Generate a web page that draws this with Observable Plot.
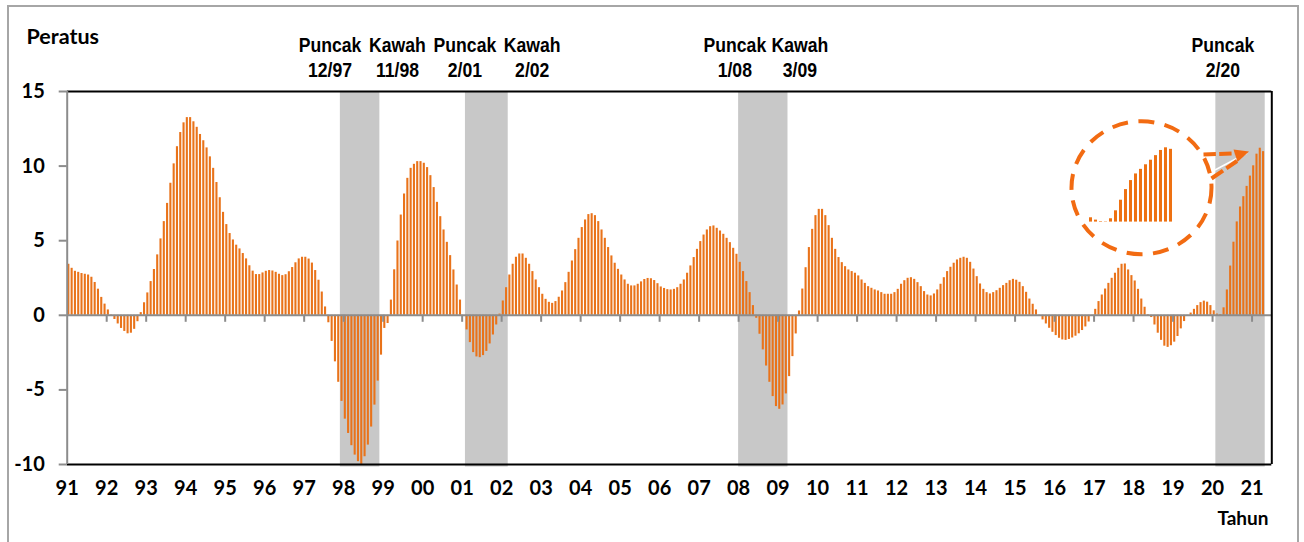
<!DOCTYPE html>
<html>
<head>
<meta charset="utf-8">
<script src="https://cdn.jsdelivr.net/npm/d3@7"></script>
<script src="https://cdn.jsdelivr.net/npm/@observablehq/plot@0.6"></script>
<style>
  html, body { margin: 0; padding: 0; background: #fff; width: 1304px; height: 542px; overflow: hidden; }
  #wrap { position: relative; width: 1304px; height: 542px; }
  #border { position: absolute; left: 7px; top: 5px; width: 1288px; height: 600px; border: 2px solid #a6a6a6; border-bottom: none; }
  #main, #inset { position: absolute; left: 0; top: 0; }
  #inset { left: 1083.6px; top: 142.4px; }
</style>
</head>
<body>
<div id="wrap">
  <div id="border"></div>
  <div id="main"></div>
  <div id="inset"></div>
</div>
<script>
// ---------------- DATA ----------------
const startYear = 1991;               // first bar = January 1991, monthly
const endYear = 2021;                 // axis runs to mid-2021
const values = [
  // 1991
  3.42, 3.15, 2.95, 2.88, 2.80, 2.75, 2.70, 2.55, 2.20, 1.75, 1.20, 0.75,
  // 1992
  0.36, 0.03, -0.28, -0.58, -0.88, -1.08, -1.24, -1.20, -0.94, -0.43, 0.18, 0.84,
  // 1993
  1.50, 2.26, 3.07, 4.05, 5.12, 6.28, 7.50, 8.85, 10.15, 11.30, 12.25, 12.90,
  // 1994
  13.25, 13.25, 12.97, 12.60, 12.12, 11.70, 11.22, 10.62, 9.85, 8.90, 7.88, 6.90,
  // 1995
  6.08, 5.48, 5.05, 4.70, 4.45, 4.14, 3.78, 3.32, 2.96, 2.73, 2.73, 2.84,
  // 1996
  2.95, 3.00, 2.97, 2.88, 2.75, 2.66, 2.72, 2.92, 3.20, 3.52, 3.78, 3.89,
  // 1997
  3.89, 3.77, 3.50, 3.00, 2.35, 1.56, 0.56, -0.50, -1.75, -3.12, -4.49, -5.77,
  // 1998
  -6.96, -7.92, -8.74, -9.37, -9.81, -9.99, -9.48, -8.70, -7.49, -6.02, -4.41, -2.67,
  // 1999
  -0.88, -0.55, 1.02, 3.05, 4.98, 6.72, 8.13, 9.18, 9.85, 10.12, 10.30, 10.30,
  // 2000
  10.19, 9.90, 9.36, 8.56, 7.57, 6.61, 5.72, 4.89, 4.00, 3.04, 2.03, 1.02,
  // 2001
  0.00, -0.98, -1.83, -2.50, -2.79, -2.84, -2.70, -2.42, -1.92, -1.32, -0.65, 0.08,
  // 2002
  0.96, 1.85, 2.70, 3.42, 3.89, 4.11, 4.11, 3.82, 3.42, 2.93, 2.37, 1.85,
  // 2003
  1.41, 1.07, 0.87, 0.80, 0.92, 1.21, 1.63, 2.19, 2.88, 3.64, 4.40, 5.16,
  // 2004
  5.88, 6.39, 6.75, 6.81, 6.68, 6.28, 5.72, 5.16, 4.54, 3.98, 3.49, 3.08,
  // 2005
  2.70, 2.37, 2.08, 1.97, 1.97, 2.08, 2.24, 2.40, 2.47, 2.45, 2.33, 2.12,
  // 2006
  1.90, 1.80, 1.72, 1.70, 1.74, 1.85, 2.08, 2.37, 2.82, 3.31, 3.87, 4.42,
  // 2007
  4.94, 5.38, 5.72, 5.94, 5.99, 5.83, 5.65, 5.43, 5.16, 4.87, 4.49, 4.09,
  // 2008
  3.55, 2.93, 2.26, 1.52, 0.65, -0.20, -1.27, -2.32, -3.40, -4.49, -5.45, -6.12,
  // 2009
  -6.30, -6.01, -5.27, -4.11, -2.77, -1.25, 0.29, 1.76, 3.19, 4.54, 5.76, 6.68,
  // 2010
  7.10, 7.10, 6.68, 6.01, 5.16, 4.42, 3.87, 3.53, 3.26, 3.04, 2.93, 2.82,
  // 2011
  2.64, 2.37, 2.14, 1.92, 1.81, 1.70, 1.63, 1.52, 1.41, 1.41, 1.41, 1.52,
  // 2012
  1.74, 2.08, 2.32, 2.48, 2.52, 2.41, 2.19, 1.92, 1.59, 1.36, 1.30, 1.43,
  // 2013
  1.70, 2.08, 2.52, 2.93, 3.22, 3.49, 3.71, 3.82, 3.89, 3.82, 3.55, 3.10,
  // 2014
  2.59, 2.10, 1.74, 1.52, 1.43, 1.52, 1.65, 1.81, 1.99, 2.14, 2.32, 2.41,
  // 2015
  2.35, 2.21, 1.92, 1.54, 1.09, 0.74, 0.36, 0.02, -0.31, -0.58, -0.87, -1.14,
  // 2016
  -1.36, -1.54, -1.65, -1.68, -1.62, -1.52, -1.40, -1.24, -1.02, -0.78, -0.45, -0.08,
  // 2017
  0.40, 0.92, 1.36, 1.76, 2.14, 2.48, 2.82, 3.15, 3.42, 3.44, 3.04, 2.66,
  // 2018
  2.30, 1.74, 1.09, 0.54, 0.04, -0.15, -0.65, -1.20, -1.68, -2.07, -2.15, -2.04,
  // 2019
  -1.80, -1.42, -0.91, -0.42, -0.08, 0.15, 0.40, 0.65, 0.85, 0.95, 0.88, 0.65,
  // 2020
  0.30, 0.08, 0.05, 0.50, 1.70, 3.30, 4.90, 6.26, 7.26, 7.95, 8.64, 9.33,
  // 2021
  10.02, 10.80, 11.20, 10.97
];

// shaded peak-to-trough periods (inclusive months, "YYYY-MM")
const shadeFrom = ["1997-12", "2001-02", "2008-01", "2020-02"];
const shadeTo   = ["1998-11", "2002-02", "2009-03", "2021-04"];

// annotation labels above the shading
const eventWords  = ["Puncak", "Kawah", "Puncak", "Kawah", "Puncak", "Kawah", "Puncak"];
const eventDates  = ["12/97", "11/98", "2/01", "2/02", "1/08", "3/09", "2/20"];
const eventMonths = ["1997-12", "1998-11", "2001-02", "2002-02", "2008-01", "2009-03", "2020-02"];

const yTicks = [-10, -5, 0, 5, 10, 15];
const yearTicks = d3.range(startYear, endYear + 1);   // 91 ... 21
const insetStart = "2019-12";                          // zoomed detail inside the circle

const yLabel = "Peratus";
const xLabel = "Tahun";

// ---------------- HELPERS ----------------
const idx = (s) => { const [y, m] = s.split("-").map(Number); return (y - startYear) * 12 + (m - 1); };
const rows = values.map((v, i) => ({i, v}));
const shades = shadeFrom.map((f, k) => ({x1: idx(f), x2: idx(shadeTo[k]) + 1}));
const yearIdx = yearTicks.map(y => (y - startYear) * 12);
const xMax = (endYear - startYear) * 12 + 6;            // through June 2021

// ---------------- STYLE ----------------
const ORANGE = "#E9731A";
const GREY_AX = "#8c8c8c";
const NUMFONT = "Lato, 'Open Sans', sans-serif";
const NARROW = "'Liberation Sans', Arial, sans-serif";
const labelNudge = [-10.4, 20.9, -0.6, 27.3, -3.8, 15.2, 7.0];

const eventMarks = eventWords.flatMap((w, k) => [
  Plot.text([w], {x: idx(eventMonths[k]), frameAnchor: "top", lineAnchor: "middle", dx: labelNudge[k], dy: -46,
    text: d => d, fontFamily: NARROW, fontWeight: "bold", fontSize: 20.5, fill: "#000"}),
  Plot.text([eventDates[k]], {x: idx(eventMonths[k]), frameAnchor: "top", lineAnchor: "middle", dx: labelNudge[k], dy: -21.5,
    text: d => d, fontFamily: NARROW, fontWeight: "bold", fontSize: 20.5, fill: "#000"})
]);

const main = Plot.plot({
  width: 1304, height: 542,
  marginLeft: 66.7, marginRight: 32.7, marginTop: 91, marginBottom: 78,
  style: {background: "transparent", color: "#000", overflow: "visible"},
  x: {domain: [0, xMax], axis: null},
  y: {domain: [-10, 15], axis: null},
  marks: [
    Plot.rect(shades, {x1: "x1", x2: "x2", y1: -10, y2: 15, fill: "#c8c8c8", insetBottom: -2.5}),
    Plot.rect(rows, {x1: "i", x2: d => d.i + 1, y1: 0, y2: "v", fill: ORANGE, insetLeft: 0.6, insetRight: 0.6}),
    Plot.ruleY([0], {stroke: GREY_AX, strokeWidth: 2}),
    Plot.ruleX(yearIdx.slice(1), {x: d => d, y1: 0, y2: 0, insetBottom: -7, stroke: GREY_AX, strokeWidth: 2}),
    Plot.ruleY([15, -10], {stroke: "#000", strokeWidth: 1.8}),
    Plot.ruleX([xMax], {stroke: "#000", strokeWidth: 2}),
    Plot.ruleX([0], {stroke: GREY_AX, strokeWidth: 2}),
    Plot.ruleY(yTicks, {y: d => d, x1: 0, x2: 0, insetLeft: -8, stroke: GREY_AX, strokeWidth: 2}),
    Plot.text(yTicks, {x: 0, y: d => d, text: d => String(d), dx: -22.4, textAnchor: "end", lineAnchor: "middle",
      fontFamily: NUMFONT, fontWeight: "bold", fontSize: 20, fill: "#000"}),
    Plot.text(yearIdx, {x: d => d, y: -10, dy: 24.3, lineAnchor: "middle", text: (d, k) => String(yearTicks[k] % 100).padStart(2, "0"),
      fontFamily: NUMFONT, fontWeight: "bold", fontSize: 20, fill: "#000"}),
    Plot.text([yLabel], {frameAnchor: "top-left", lineAnchor: "middle", dx: -40.7, dy: -54, textAnchor: "start", text: d => d,
      fontFamily: NUMFONT, fontWeight: "bold", fontSize: 21.5, fill: "#000"}),
    Plot.text([xLabel], {frameAnchor: "bottom-right", lineAnchor: "middle", dx: -3.3, dy: 54, textAnchor: "end", text: d => d,
      fontFamily: NUMFONT, fontWeight: "bold", fontSize: 19, fill: "#000"}),
    ...eventMarks
  ]
});
document.getElementById("main").append(main);

// condense the peak/trough labels horizontally (narrow bold face look)
const narrowSet = new Set([...eventWords, ...eventDates]);
d3.select(main).selectAll("text").filter(function () { return narrowSet.has(this.textContent); })
  .each(function () {
    const b = this.getBBox();
    const cx = b.x + b.width / 2;
    const t = this.getAttribute("transform") || "";
    this.setAttribute("transform", `${t} translate(${cx},0) scale(0.86,1) translate(${-cx},0)`);
  });

// inset: the same series from Dec 2019 on, magnified inside the dashed circle
const insetRows = rows.filter(d => d.i >= idx(insetStart));
const inset = Plot.plot({
  width: 91.8, height: 79.6, margin: 0,
  style: {background: "transparent", overflow: "visible"},
  x: {type: "band", domain: insetRows.map(d => d.i), paddingInner: 0.45, paddingOuter: 0.225, axis: null},
  y: {domain: [0, 12], axis: null},
  marks: [
    Plot.barY(insetRows, {x: "i", y1: 0, y2: "v", fill: "#EE7112"})
  ]
});
document.getElementById("inset").append(inset);

// dashed circle + arrow callout
const ov = d3.select("#wrap").append("svg")
  .attr("width", 1304).attr("height", 542)
  .style("position", "absolute").style("left", "0px").style("top", "0px");
const CALL = "#F26B12";
ov.append("ellipse").attr("cx", 1141.5).attr("cy", 187.8).attr("rx", 70).attr("ry", 66.5)
  .attr("fill", "none").attr("stroke", CALL).attr("stroke-width", 4).attr("stroke-dasharray", "16 10.5");
ov.append("path").attr("d", "M1215,170 L1247,153").attr("stroke", "#fff").attr("stroke-width", 1.5).attr("fill", "none");
ov.append("path").attr("d", "M1203.5,154.5 L1235,153.5").attr("stroke", CALL).attr("stroke-width", 4)
  .attr("stroke-dasharray", "12.4 3.3").attr("fill", "none");
ov.append("path").attr("d", "M1211.5,178.5 L1237,161").attr("stroke", CALL).attr("stroke-width", 4)
  .attr("stroke-dasharray", "14 4").attr("fill", "none");
ov.append("path").attr("d", "M1233.5,149.5 L1249,151.5 L1237.5,162 Z").attr("fill", CALL);
</script>
</body>
</html>
